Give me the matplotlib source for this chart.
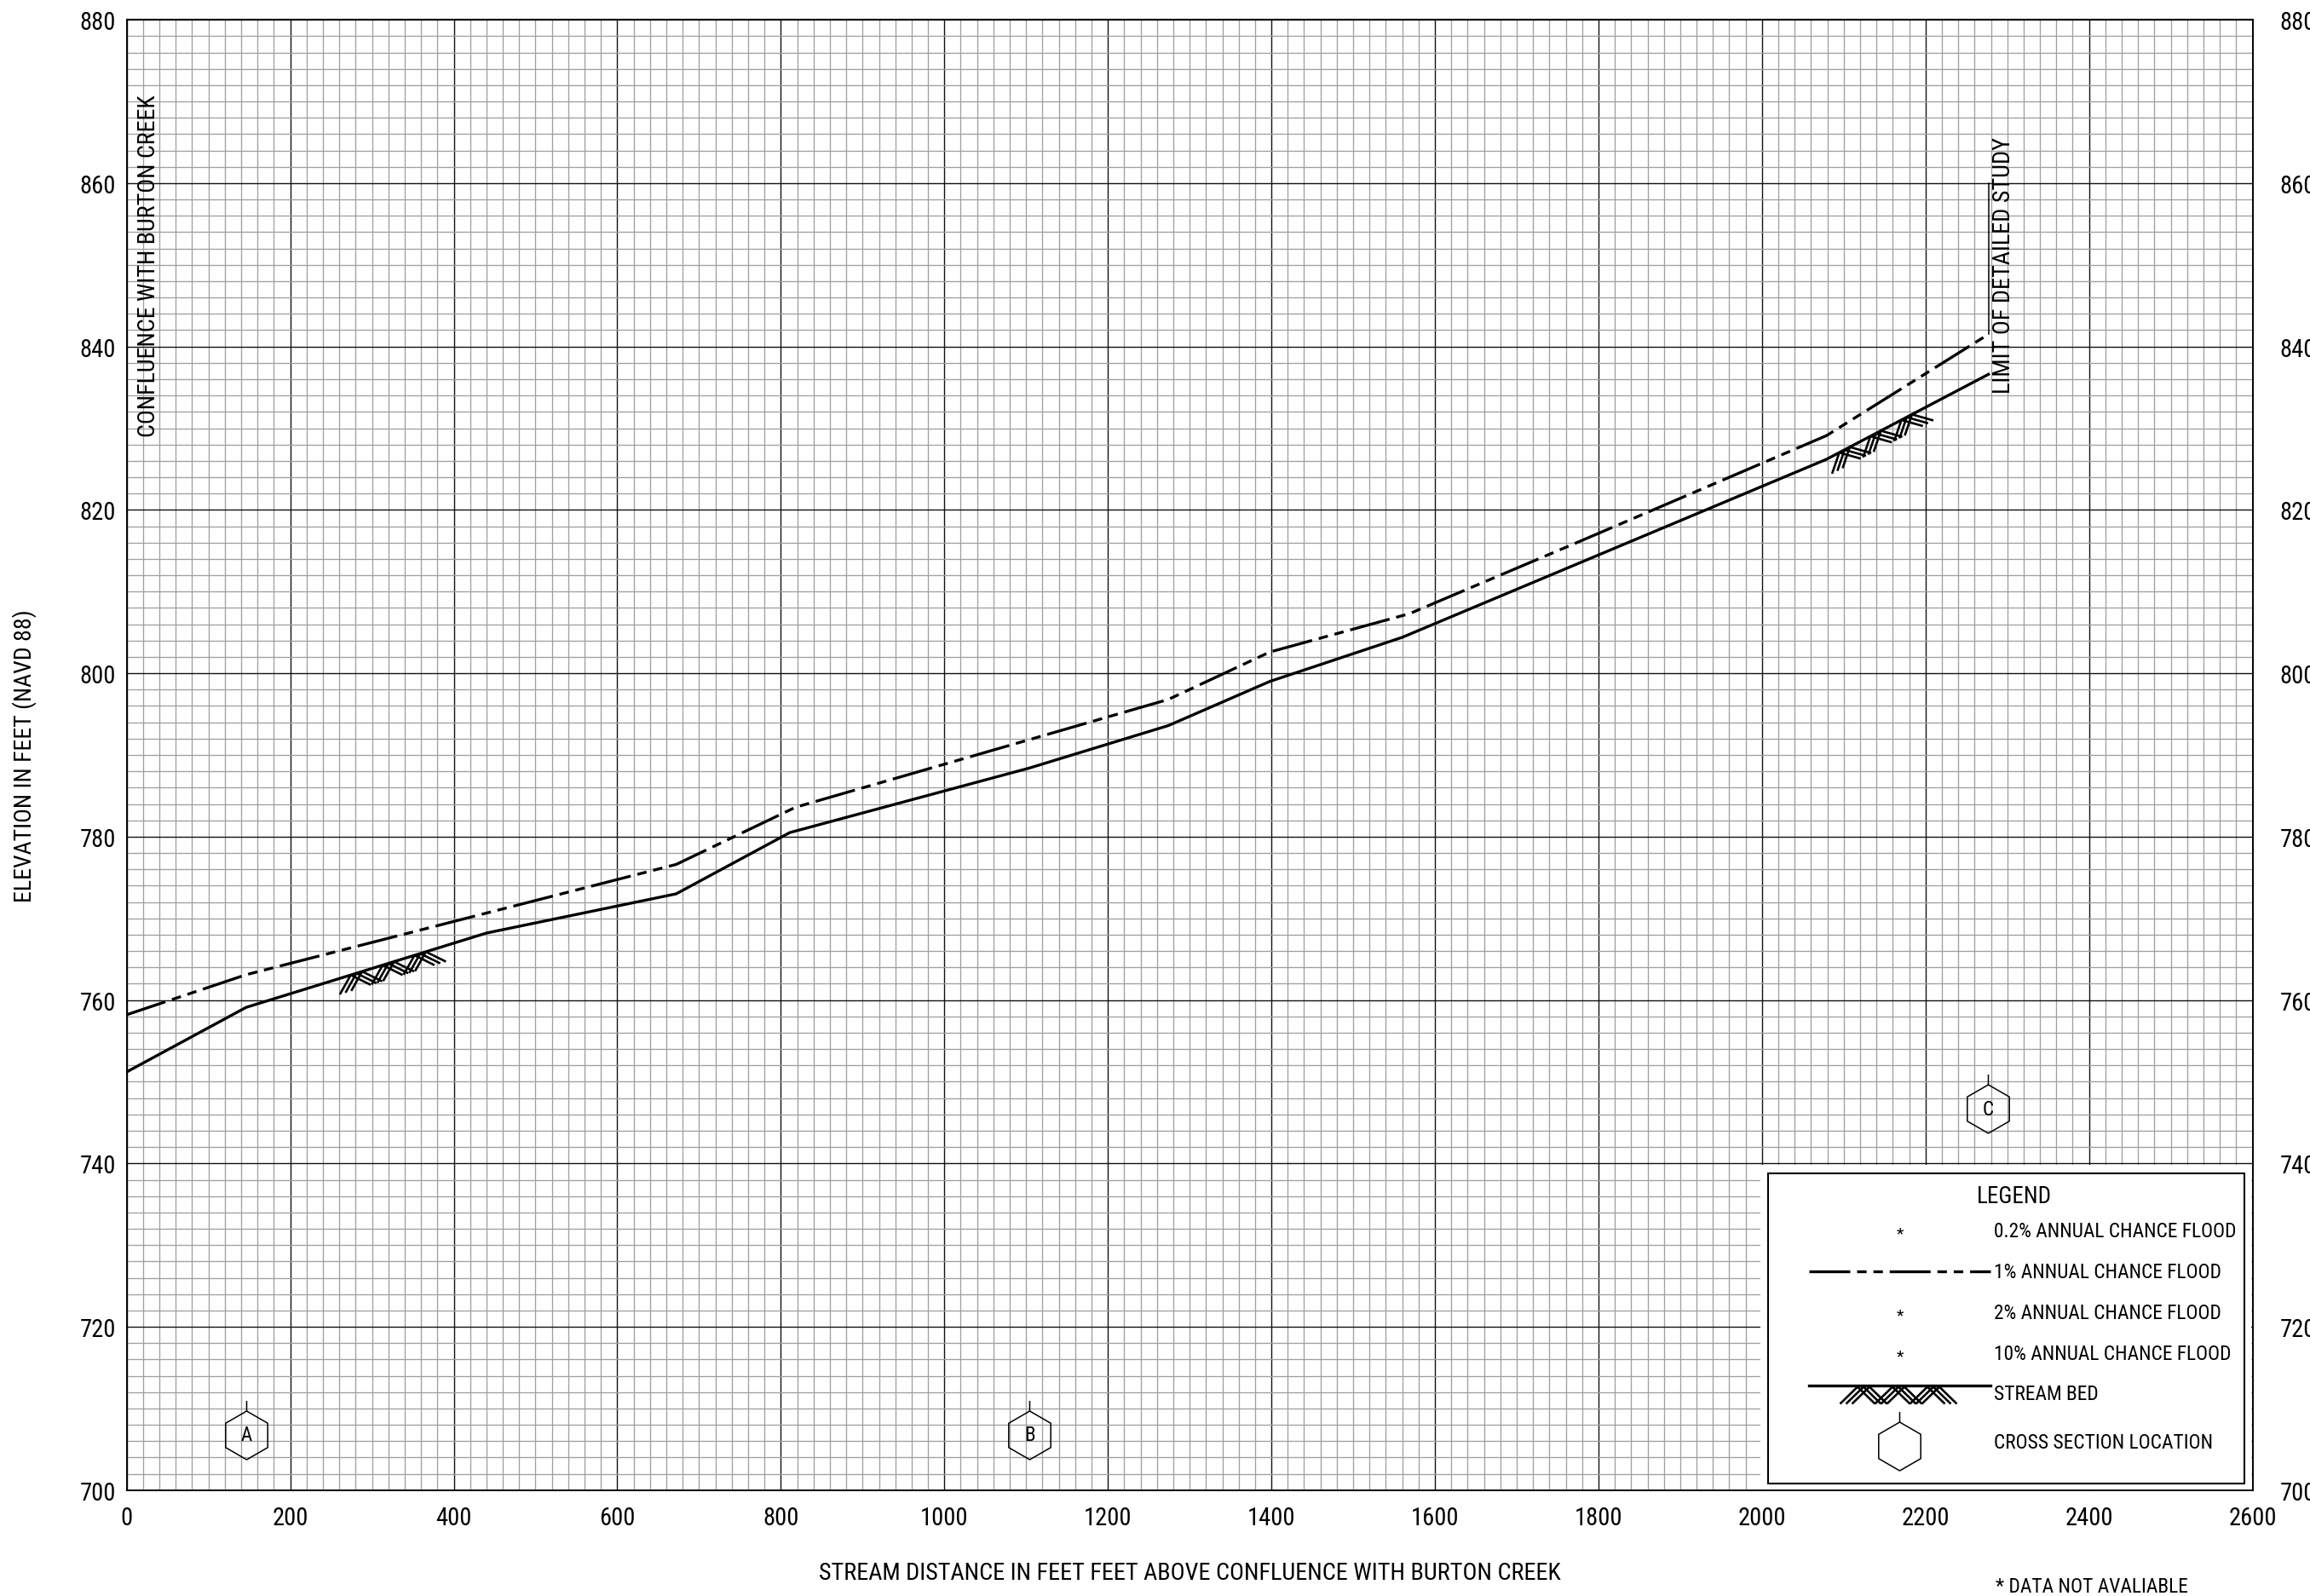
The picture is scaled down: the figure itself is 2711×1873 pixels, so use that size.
import numpy as np
import matplotlib
matplotlib.use("Agg")
import matplotlib.pyplot as plt
from matplotlib import font_manager as fm
from matplotlib.font_manager import FontProperties
from matplotlib.path import Path
from matplotlib.collections import LineCollection
from matplotlib.patches import Rectangle
from matplotlib.ticker import MultipleLocator

# ---------------- data ----------------
stream_x = [0, 146, 440, 672, 811, 1104, 1274, 1398, 1560, 2079, 2277]
stream_y = [751.2, 759.1, 768.2, 773.0, 780.5, 788.4, 793.6, 799.0, 804.4, 826.2, 836.6]

flood1_x = [0, 146, 672, 818, 1274, 1398, 1569, 1769, 2079, 2277]
flood1_y = [758.2, 763.1, 776.6, 783.6, 796.8, 802.6, 807.3, 815.8, 829.1, 841.5]

xsec_labels = ['A', 'B', 'C']
xsec_x = [146, 1104, 2276]
xsec_y = [706.8, 706.8, 746.7]

bed_peaks = [[281, 320, 359], [2101, 2139, 2177]]

x_ticks = list(range(0, 2601, 200))
y_ticks = list(range(700, 881, 20))

legend_rows = ['0.2% ANNUAL CHANCE FLOOD', '1% ANNUAL CHANCE FLOOD',
               '2% ANNUAL CHANCE FLOOD', '10% ANNUAL CHANCE FLOOD',
               'STREAM BED', 'CROSS SECTION LOCATION']

# ---------------- font choice (narrowest available) ----------------
entries = [(f.name, str(f.stretch)) for f in fm.fontManager.ttflist]
cands = [('Liberation Sans Narrow', None), ('Roboto Condensed', None),
         ('Open Sans Condensed', None), ('Noto Sans Condensed', None),
         ('Noto Sans', 'condensed'), ('Noto Sans', 'semi-condensed'),
         ('Open Sans', 'condensed'), ('Roboto', 'condensed'),
         ('DejaVu Sans', 'condensed')]
FAM, STR = 'DejaVu Sans', 'normal'
for name, st in cands:
    ok = any(n == name and (st is None or s == st) for n, s in entries)
    if ok:
        FAM, STR = name, (st or 'normal')
        break
plt.rcParams['font.family'] = [FAM, 'DejaVu Sans']
plt.rcParams['font.stretch'] = STR
plt.rcParams['lines.scale_dashes'] = False

# ---------------- figure ----------------
W, H = 2711, 1874
fig = plt.figure(figsize=(W / 100, H / 100), dpi=100)
renderer = fig.canvas.get_renderer()

def fit(s, target_w, target_cap):
    fp = FontProperties(family=[FAM, 'DejaVu Sans'], stretch=STR, size=10)
    w, h, d = renderer.get_text_width_height_descent(s, fp, ismath=False)
    size_w = 10.0 * target_w / w
    size_h = target_cap / 0.72 / (100.0 / 72.0)
    return min(size_w, size_h)

L, R, T, B = 148.7, 2643.6, 24.2, 1749.8
ax = fig.add_axes([L / W, 1 - B / H, (R - L) / W, (B - T) / H])
ax.set_xlim(0, 2600)
ax.set_ylim(700, 880)
ax.set_xticks(x_ticks)
ax.set_yticks(y_ticks)
ax.xaxis.set_minor_locator(MultipleLocator(20))
ax.yaxis.set_minor_locator(MultipleLocator(2))
ax.set_axisbelow(True)
ax.grid(which='minor', color='#a0a0a0', lw=0.95)
ax.grid(which='major', color='#111111', lw=1.0)
tick_fs = fit('1000', 55.5, 22)
ax.tick_params(which='both', length=0)
ax.tick_params(axis='y', labelsize=tick_fs, pad=9)
ax.tick_params(axis='x', labelsize=tick_fs, pad=13)
for s in ax.spines.values():
    s.set_linewidth(1.4)
    s.set_color('black')

xl = 'STREAM DISTANCE IN FEET FEET ABOVE CONFLUENCE WITH BURTON CREEK'
ax.set_xlabel(xl, fontsize=fit(xl, 871, 21.7), va='center')
ax.xaxis.set_label_coords(0.5, -(1847 - B) / (B - T))
yl = 'ELEVATION IN FEET (NAVD 88)'
ax.set_ylabel(yl, fontsize=fit(yl, 342, 21), va='center')
ax.yaxis.set_label_coords(-(L - 29) / (R - L), 0.5)

ax2 = ax.twinx()
ax2.set_ylim(700, 880)
ax2.set_yticks(y_ticks)
ax2.tick_params(length=0, labelsize=tick_fs, pad=23)
for s in ax2.spines.values():
    s.set_visible(False)

LW = 2.4
DASH = (34.5, 5.8, 8.0, 5.8, 8.0, 5.8)
ax.plot(stream_x, stream_y, color='black', lw=LW, zorder=3)
l1, = ax.plot(flood1_x, flood1_y, color='black', lw=LW, zorder=3)
l1.set_dashes(DASH)
l1.set_dash_capstyle('butt')

# limit of detailed study
ax.plot([flood1_x[-1], flood1_x[-1]], [flood1_y[-1], 860], color='black', lw=1.1, zorder=3)
t1 = 'LIMIT OF DETAILED STUDY'
ax.text(2296, 850, t1, rotation=90, ha='center', va='center', fontsize=fit(t1, 302, 21), zorder=4)
t2 = 'CONFLUENCE WITH BURTON CREEK'
ax.text(27.4, 850, t2, rotation=90, ha='center', va='center', fontsize=fit(t2, 401, 20.5), zorder=4)

# helpers
inv = ax.transData.inverted()
def to_data(px, py):
    return inv.transform((px, H - py))

def zig_segments(P, u, n, half, depth, delta):
    segs = []
    for side in (-1, 1):
        end = P + side * half * u + depth * n
        for k in (-1, 0, 1):
            a = P + k * delta * u
            b = end + k * delta * u
            segs.append([inv.transform(a), inv.transform(b)])
    return segs

# hexagon + tick marker
ang = np.deg2rad(90 + 60 * np.arange(6))
hv = np.column_stack([np.cos(ang), np.sin(ang)])
verts = list(hv) + [hv[0], (0, 1), (0, 1.42)]
codes = [Path.MOVETO] + [Path.LINETO] * 5 + [Path.CLOSEPOLY, Path.MOVETO, Path.LINETO]
hexmark = Path(verts, codes)

hex_fs = fit('B', 1000, 16.7)
for lab, x, y in zip(xsec_labels, xsec_x, xsec_y):
    ax.plot([x], [y], marker=hexmark, ms=58.3, mfc='none', mec='black', mew=1.1, zorder=4)
    ax.text(x, y, lab, ha='center', va='center', fontsize=hex_fs, zorder=4)

# stream bed chevrons on plot
tr = ax.transData
segs = []
for group in bed_peaks:
    for x in group:
        y = np.interp(x, stream_x, stream_y)
        P = tr.transform((x, y))
        a = tr.transform((x - 5, np.interp(x - 5, stream_x, stream_y)))
        b = tr.transform((x + 5, np.interp(x + 5, stream_x, stream_y)))
        u = (b - a) / np.hypot(*(b - a))
        n = np.array([u[1], -u[0]])
        segs += zig_segments(P, u, n, 19, 18, 7.0)
ax.add_collection(LineCollection(segs, colors='black', linewidths=1.9, zorder=3, capstyle='butt'))

# ---------------- legend ----------------
x0, y0 = to_data(2066, 1749)
x1, y1 = to_data(2642, 1368)
ax.add_patch(Rectangle((x0, y0), x1 - x0, y1 - y0, facecolor='white', edgecolor='none', zorder=2))
x0, y0 = to_data(2075, 1741.7)
x1, y1 = to_data(2634, 1378)
ax.add_patch(Rectangle((x0, y0), x1 - x0, y1 - y0, facecolor='none', edgecolor='black', lw=1.5, zorder=5))

lx, ly = to_data(2364, 1405)
ax.text(lx, ly, 'LEGEND', ha='center', va='center', fontsize=fit('LEGEND', 88, 20), zorder=6)
row_y = [1446, 1494, 1542, 1590, 1637, 1694]
row_fs = fit(legend_rows[0], 284, 18.3)
for lab, py in zip(legend_rows, row_y):
    tx, ty = to_data(2340.5, py)
    ax.text(tx, ty, lab, ha='left', va='center', fontsize=row_fs, zorder=6)
for i in (0, 2, 3):
    sx, sy = to_data(2229.5, row_y[i] + 2)
    ax.text(sx, sy, '*', ha='center', va='center', fontsize=14, zorder=6)

# 1% sample
p0 = to_data(2123, 1493)
p1 = to_data(2336, 1493)
ls, = ax.plot([p0[0], p1[0]], [p0[1], p1[1]], color='black', lw=LW, zorder=6)
ls.set_dashes(DASH)
ls.set_dash_capstyle('butt')

# stream bed sample
b0 = to_data(2123, 1627)
b1 = to_data(2336, 1627)
ax.plot([b0[0], b1[0]], [b0[1], b1[1]], color='black', lw=LW, zorder=6)
segs = []
for px in (2187, 2228, 2269):
    P = np.array([px, H - 1628.5])
    segs += zig_segments(P, np.array([1.0, 0.0]), np.array([0.0, -1.0]), 20.5, 20, 7.0)
ax.add_collection(LineCollection(segs, colors='black', linewidths=1.9, zorder=6, capstyle='butt'))

# cross section sample
hx, hy = to_data(2229.5, 1698)
ax.plot([hx], [hy], marker=hexmark, ms=58.3, mfc='none', mec='black', mew=1.1, zorder=6)

# footnote
fn = '* DATA NOT AVALIABLE'
fx, fy = to_data(2341.5, 1863)
ax.text(fx, fy, fn, ha='left', va='center', fontsize=fit(fn, 225, 17), zorder=6, clip_on=False)

fig.savefig('out.png', dpi=100)
